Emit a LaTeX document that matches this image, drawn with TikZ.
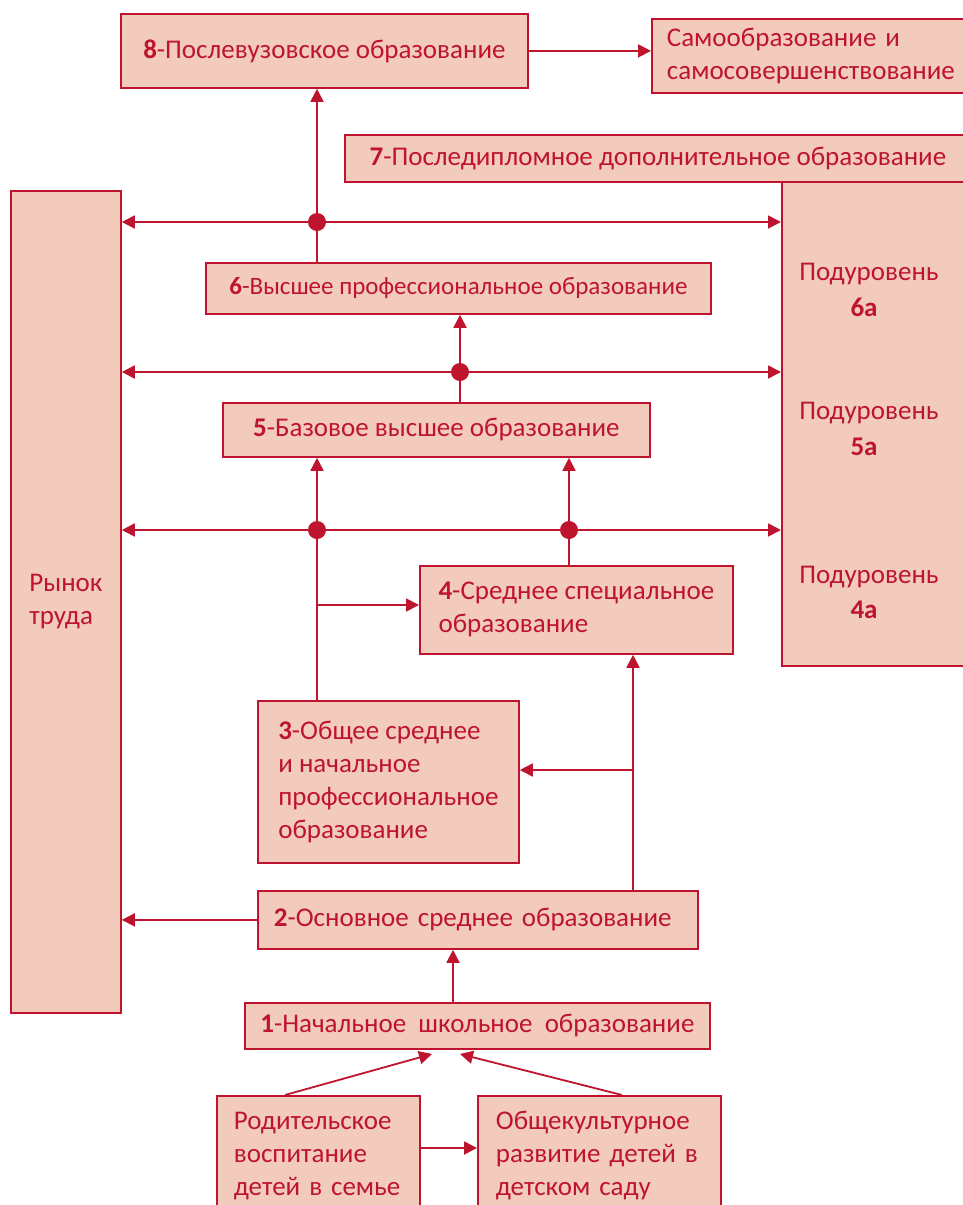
\documentclass[tikz,border=0pt]{standalone}
\usepackage{fontspec}
\setmainfont{Carlito}
\usetikzlibrary{arrows.meta,calc}
\definecolor{lc}{RGB}{190,20,45}
\definecolor{fc}{RGB}{242,203,188}
\begin{document}
\begin{tikzpicture}[x=1pt,y=-1pt, font=\fontsize{27}{33}\selectfont, text=lc,
  box/.style={draw=lc, fill=fc, line width=1.8pt, inner sep=0pt, anchor=north west},
  lbox/.style={box, align=left},
  arr/.style={draw=lc, line width=1.8pt, -{Triangle[length=13pt,width=13pt]}},
  ln/.style={draw=lc, line width=1.8pt},
  bfs/.style={font=\fontsize{27}{33}\selectfont\bfseries},
  dot/.style={circle, fill=lc, minimum size=18pt, inner sep=0pt}]
\useasboundingbox (0,0) rectangle (962,1205);

% boxes
\node[box, minimum width=407pt, minimum height=74pt] (b8) at (120,13) {\textbf{8}-Послевузовское образование};
\node[lbox, minimum height=74pt, inner xsep=15pt, text width=300pt] (self) at (651,18) {Самообразование и\\самосовершенствование};
\node[box, minimum width=626pt, minimum height=47pt] (b7) at (344,134) {\textbf{7}-Последипломное дополнительное образование};
\node[lbox, minimum width=110pt, minimum height=822pt] (ryn) at (10,190) {Рынок\\труда};
\node[box, minimum width=189pt, minimum height=484pt] (sub) at (781,181) {};
\node[box, minimum width=505pt, minimum height=51pt, font=\fontsize{25}{33}\selectfont] (b6) at (205,262) {\textbf{6}-Высшее профессиональное образование};
\node[box, minimum width=427pt, minimum height=54pt] (b5) at (222,402) {\textbf{5}-Базовое высшее образование};
\node[lbox, minimum width=313pt, minimum height=88pt] (b4) at (419,565) {\textbf{4}-Среднее специальное\\образование};
\node[lbox, minimum width=261pt, minimum height=162pt] (b3) at (257,700) {\textbf{3}-Общее среднее\\и начальное\\профессиональное\\образование};
\node[lbox, minimum height=58pt, inner xsep=16pt, text width=408pt] (b2) at (257,890) {\textbf{2}-Основное среднее образование};
\node[box, minimum width=465pt, minimum height=46pt] (b1) at (244,1002) {\textbf{1}-Начальное\ \ школьное\ \ образование};
\node[lbox, minimum height=120pt, inner xsep=17pt, text width=169pt] (R) at (216,1095) {Родительское\\воспитание\\детей в семье};
\node[lbox, minimum height=120pt, inner xsep=18pt, text width=207pt] (O) at (477,1095) {Общекультурное\\развитие детей в\\детском саду};

% sublevel texts
\node[anchor=base] (s6) at (869,280) {Подуровень};
\node[anchor=base, bfs] (s6a) at (864,316) {6а};
\node[anchor=base] (s5) at (869,419) {Подуровень};
\node[anchor=base, bfs] (s5a) at (864,455) {5а};
\node[anchor=base] (s4) at (869,583) {Подуровень};
\node[anchor=base, bfs] (s4a) at (864,618) {4а};

% junctions
\coordinate (j1) at (317,222);
\coordinate (j2) at (460,372);
\coordinate (j3) at (317,530);
\coordinate (j4) at (569,530);
\coordinate (c1) at (317,605);
\coordinate (c2) at (633,770);
\coordinate (c3) at (453,975);
\coordinate (c4) at (419,1148);
\coordinate (s1) at (285,1095);
\coordinate (t1) at (432,1054);
\coordinate (s2) at (622,1095);
\coordinate (t2) at (460,1054);

% connectors
\draw[arr] (b8.east) -- (b8.east -| self.west);

\draw[arr] (j1) -- (j1 -| ryn.east);
\draw[arr] (j1) -- (j1 -| sub.west);
\draw[arr] (j1) -- (j1 |- b8.south);
\draw[ln] (j1) -- (j1 |- b6.north);

\draw[arr] (j2) -- (j2 -| ryn.east);
\draw[arr] (j2) -- (j2 -| sub.west);
\draw[arr] (j2) -- (j2 |- b6.south);
\draw[ln] (j2) -- (j2 |- b5.north);

\draw[arr] (j3) -- (j3 -| ryn.east);
\draw[ln] (j3) -- (j4);
\draw[arr] (j4) -- (j4 -| sub.west);
\draw[arr] (j3) -- (j3 |- b5.south);
\draw[arr] (j4) -- (j4 |- b5.south);
\draw[ln] (j4) -- (j4 |- b4.north);
\draw[ln] (j3) -- (j3 |- b3.north);
\draw[arr] (c1) -- (c1 -| b4.west);

\draw[arr] (c2 |- b2.north) -- (c2 |- b4.south);
\draw[arr] (c2) -- (c2 -| b3.east);
\draw[arr] (b2.west) -- (b2.west -| ryn.east);
\draw[arr] (c3 |- b1.north) -- (c3 |- b2.south);
\draw[arr] (s1) -- (t1);
\draw[arr] (s2) -- (t2);
\draw[arr] (c4 -| R.east) -- (c4 -| O.west);

% dots
\node[dot] (d1) at (j1) {};
\node[dot] (d2) at (j2) {};
\node[dot] (d3) at (j3) {};
\node[dot] (d4) at (j4) {};
\end{tikzpicture}
\end{document}
